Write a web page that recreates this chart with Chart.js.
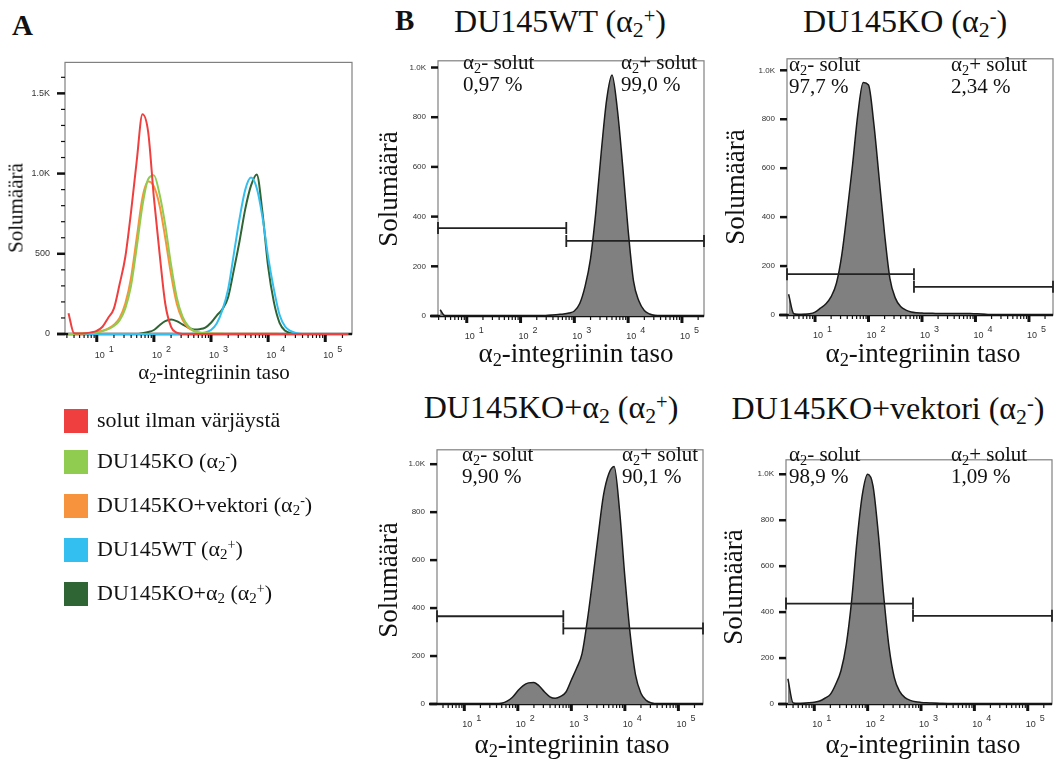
<!DOCTYPE html>
<html lang="fi">
<head>
<meta charset="utf-8">
<title>α2-integriinin taso</title>
<script src="https://cdn.jsdelivr.net/npm/chart.js@4.4.1/dist/chart.umd.min.js"></script>
<style>
  html, body { margin: 0; padding: 0; background: #fff; }
  body { position: relative; width: 1054px; height: 760px; overflow: hidden;
         font-family: "Liberation Serif", "Times New Roman", serif; color: #111; }
  canvas { position: absolute; }
  .t { position: absolute; white-space: nowrap; line-height: 1; }
  .t sub { font-size: 68%; position: relative; top: 0.22em; vertical-align: baseline; }
  .t sup { font-size: 64%; position: relative; top: -0.45em; vertical-align: baseline; }
  .sw { position: absolute; width: 24px; height: 24px; }
</style>
</head>
<body>
<script>
// bin centres (fluorescence intensity, ~0.1 decade apart)
const bins = [3.2, 4, 5, 6.3, 7.9,
  10, 12.6, 15.8, 20, 25.1, 31.6, 39.8, 50.1, 63.1, 79.4,
  100, 126, 158, 200, 251, 316, 398, 501, 631, 794,
  1000, 1259, 1585, 1995, 2512, 3162, 3981, 5012, 6310, 7943,
  10000, 12589, 15849, 19953, 25119, 31623, 39811, 50119, 63096, 79433,
  100000, 125893, 158489, 199526, 251189];

// panel A overlays (counts per bin)
const unstainedA = [130, 5, 3, 5, 10,
  20, 45, 100, 160, 310, 480, 760, 1080, 1370, 1260,
  850, 500, 190, 45, 8, 0, 0, 0, 0, 0,
  0, 0, 0, 0, 0, 0, 0, 0, 0, 0,
  0, 0, 0, 0, 0, 0, 0, 0, 0, 0,
  0, 0, 0, 0, 0];
const koA = [0, 0, 2, 4, 6,
  10, 18, 30, 50, 85, 160, 300, 540, 800, 965,
  990, 870, 680, 430, 230, 110, 50, 20, 10, 5,
  3, 2, 1, 0, 0, 0, 0, 0, 0, 0,
  0, 0, 0, 0, 0, 0, 0, 0, 0, 0,
  0, 0, 0, 0, 0];
const koVectorA = [0, 0, 2, 4, 7,
  12, 20, 34, 58, 100, 190, 350, 600, 850, 950,
  920, 800, 600, 370, 190, 90, 40, 18, 8, 4,
  3, 2, 2, 2, 2, 2, 2, 2, 2, 2,
  2, 2, 0, 0, 0, 0, 0, 0, 0, 0,
  0, 0, 0, 0, 0];
const wtA = [0, 0, 0, 0, 0,
  0, 0, 0, 0, 0, 0, 0, 0, 0, 0,
  0, 0, 0, 0, 0, 0, 0, 2, 5, 10,
  25, 65, 150, 280, 500, 720, 900, 975, 910, 730,
  480, 280, 120, 45, 18, 5, 0, 0, 0, 0,
  0, 0, 0, 0, 0];
const koAlpha2A = [0, 0, 0, 0, 0,
  0, 0, 0, 0, 0, 0, 0, 0, 5, 12,
  25, 55, 80, 90, 80, 60, 40, 28, 30, 40,
  70, 115, 155, 230, 400, 580, 780, 925, 995, 760,
  420, 200, 70, 20, 5, 0, 0, 0, 0, 0,
  0, 0, 0, 0, 0];

// panel B single histograms
const wtB = [25, 0, 0, 0, 0,
  0, 0, 0, 0, 0, 0, 0, 0, 0, 0,
  0, 0, 0, 0, 0, 2, 4, 6, 8, 12,
  20, 50, 120, 230, 420, 660, 870, 970, 830, 600,
  345, 140, 60, 22, 8, 2, 0, 0, 0, 0,
  0, 0, 0, 0, 0];
const koB = [85, 5, 2, 3, 5,
  12, 28, 45, 75, 130, 245, 420, 610, 820, 950,
  940, 780, 560, 330, 150, 70, 35, 20, 12, 9,
  8, 7, 7, 6, 6, 6, 6, 6, 6, 6,
  5, 4, 2, 0, 0, 0, 0, 0, 0, 0,
  0, 0, 0, 0, 0];
const koAlpha2B = [0, 0, 0, 0, 0,
  0, 0, 0, 0, 0, 0, 0, 3, 12, 28,
  55, 77, 88, 90, 75, 50, 30, 24, 32, 50,
  100, 150, 210, 350, 520, 700, 870, 960, 990, 810,
  530, 290, 120, 45, 15, 4, 0, 0, 0, 0,
  0, 0, 0, 0, 0];
const koVectorB = [110, 5, 2, 3, 5,
  8, 13, 25, 42, 85, 145, 260, 450, 710, 910,
  1000, 950, 745, 470, 250, 115, 55, 28, 16, 10,
  7, 5, 4, 3, 2, 1, 0, 0, 0, 0,
  0, 0, 0, 0, 0, 0, 0, 0, 0, 0,
  0, 0, 0, 0, 0];

// gates (B panels, order: WT, KO, KO+a2, KO+vektori)
const gateSplit = 708;
const gateNegY = [354, 167, 366, 437];
const gatePosY = [302, 115, 315, 384];
const negPct = ['0,97 %', '97,7 %', '9,90 %', '98,9 %'];
const posPct = ['99,0 %', '2,34 %', '90,1 %', '1,09 %'];

// names
const legendNames = ['solut ilman värjäystä',
  'DU145KO (α<sub>2</sub><sup>-</sup>)',
  'DU145KO+vektori (α<sub>2</sub><sup>-</sup>)',
  'DU145WT (α<sub>2</sub><sup>+</sup>)',
  'DU145KO+α<sub>2</sub> (α<sub>2</sub><sup>+</sup>)'];
const legendColors = ['#ef3f3f', '#8fcc4f', '#f7933c', '#33bfef', '#2f6434'];
const panelTitles = ['DU145WT (α<sub>2</sub><sup>+</sup>)',
  'DU145KO (α<sub>2</sub><sup>-</sup>)',
  'DU145KO+α<sub>2</sub> (α<sub>2</sub><sup>+</sup>)',
  'DU145KO+vektori (α<sub>2</sub><sup>-</sup>)'];

// ticks
const xMajorTicks = [10, 100, 1000, 10000, 100000];
const xTickLabels = ['1', '2', '3', '4', '5'];
const xTickValues = [3, 4, 5, 6, 7, 8, 9];
xMajorTicks.forEach(m => { for (let k = 1; k <= 9; k++) xTickValues.push(k * m); });
const yTicksA = [0, 100, 200, 300, 400, 500, 600, 700, 800, 900, 1000, 1100, 1200, 1300, 1400, 1500, 1600];
const yLabelsA = { 0: '0', 500: '500', 1000: '1.0K', 1500: '1.5K' };
const yTicksB = [0, 200, 400, 600, 800, 1000];
const yLabelsB = { 0: '0', 200: '200', 400: '400', 600: '600', 800: '800', 1000: '1.0K' };

// layout: plot boxes in page pixels
const AXW = 50, AXH = 40, PAD = 8;
const boxA = { left: 65, top: 50, right: 352, bottom: 334, xMin: 2.78, xMax: 293800, yMax: 1693 };
const boxesB = [
  { left: 438, top: 52, right: 704, bottom: 316, xMin: 2.92, xMax: 257000, yMax: 1027 },
  { left: 787, top: 50, right: 1053, bottom: 315, xMin: 2.99, xMax: 281800, yMax: 1047 },
  { left: 437, top: 441, right: 703, bottom: 704, xMin: 3.09, xMax: 288400, yMax: 1060 },
  { left: 786, top: 451, right: 1052, bottom: 704, xMin: 2.95, xMax: 285100, yMax: 1063 }
];

const pts = vals => bins.map((x, i) => ({ x, y: vals[i] }));

const flowAxes = {
  id: 'flowAxes',
  beforeDatasetsDraw(chart, args, opts) {
    const { ctx, chartArea: a, scales: { x, y } } = chart;
    const big = opts.big;
    ctx.save();
    ctx.strokeStyle = '#808080';
    ctx.lineWidth = 1.2;
    ctx.strokeRect(a.left, a.top, a.right - a.left, a.bottom - a.top);
    ctx.strokeStyle = '#111';
    x.ticks.forEach(t => {
      const px = x.getPixelForValue(t.value);
      const major = xMajorTicks.includes(t.value);
      ctx.lineWidth = major ? 3 : 1.2;
      ctx.beginPath();
      ctx.moveTo(px, a.bottom);
      ctx.lineTo(px, a.bottom + (major ? (big ? 8 : 7) : 4));
      ctx.stroke();
    });
    y.ticks.forEach(t => {
      const py = y.getPixelForValue(t.value);
      const major = opts.labels[t.value] !== undefined;
      const len = major ? (big ? 8 : 7) : 4;
      ctx.lineWidth = major ? 2.5 : 1.2;
      ctx.beginPath();
      ctx.moveTo(a.left - len, py);
      ctx.lineTo(a.left, py);
      ctx.stroke();
    });
    ctx.lineWidth = 2.5;
    ctx.beginPath();
    ctx.moveTo(a.left - 8, a.bottom);
    ctx.lineTo(a.right, a.bottom);
    ctx.stroke();
    ctx.fillStyle = '#333';
    ctx.font = '9px "Liberation Sans", Arial, sans-serif';
    ctx.textAlign = 'left';
    xMajorTicks.forEach((v, i) => {
      const px = x.getPixelForValue(v);
      ctx.fillText('10', px - 2, a.bottom + (big ? 24 : 23));
      ctx.fillText(xTickLabels[i], px + 12, a.bottom + (big ? 18 : 17));
    });
    ctx.restore();
  }
};

function makeChart(box, datasets, yTicks, yLabels, big) {
  const cv = document.createElement('canvas');
  cv.width = box.right - box.left + AXW + PAD;
  cv.height = box.bottom - box.top + PAD + AXH;
  cv.style.left = (box.left - AXW) + 'px';
  cv.style.top = (box.top - PAD) + 'px';
  document.body.appendChild(cv);
  return new Chart(cv, {
    type: 'line',
    data: { datasets },
    options: {
      responsive: false,
      animation: false,
      devicePixelRatio: 1,
      layout: { padding: { top: PAD, right: PAD, left: 0, bottom: 0 } },
      elements: { point: { radius: 0 }, line: { cubicInterpolationMode: 'monotone' } },
      plugins: {
        legend: { display: false },
        tooltip: { enabled: false },
        flowAxes: { big, labels: yLabels }
      },
      scales: {
        x: {
          type: 'logarithmic', min: box.xMin, max: box.xMax,
          grid: { display: false, drawTicks: false }, border: { display: false },
          ticks: { display: false, autoSkip: false },
          afterBuildTicks: s => {
            s.ticks = xTickValues.filter(v => v >= box.xMin && v <= box.xMax).map(v => ({ value: v }));
            s.min = box.xMin; s.max = box.xMax;
          },
          afterFit: s => { s.height = AXH; }
        },
        y: {
          type: 'linear', min: 0, max: box.yMax,
          grid: { display: false, drawTicks: false }, border: { display: false },
          ticks: {
            autoSkip: false, padding: big ? 15 : 12, color: '#333',
            font: { family: '"Liberation Sans", Arial, sans-serif', size: big ? 9 : 8 },
            callback: v => yLabels[v] !== undefined ? yLabels[v] : ''
          },
          afterBuildTicks: s => {
            s.ticks = yTicks.map(v => ({ value: v }));
            s.min = 0; s.max = box.yMax;
          },
          afterFit: s => { s.width = AXW; }
        }
      }
    },
    plugins: [flowAxes]
  });
}

// panel A (red drawn on top, also along the baseline)
const seriesA = [unstainedA, koA, koVectorA, wtA, koAlpha2A];
makeChart(boxA, seriesA.map((vals, i) => ({
  data: pts(vals), borderColor: legendColors[i], borderWidth: 2, fill: false,
  clip: { left: 0, top: 0, right: 0, bottom: 3 }
})), yTicksA, yLabelsA, true);

// panel B
const seriesB = [wtB, koB, koAlpha2B, koVectorB];
seriesB.forEach((vals, i) => {
  const box = boxesB[i];
  const gate = (y0, x0, x1) => ({
    data: [{ x: x0, y: y0 }, { x: x1, y: y0 }],
    borderColor: '#222', borderWidth: 1.8,
    pointStyle: 'line', pointRotation: 90, pointRadius: 6,
    pointBorderWidth: 1.8, pointBorderColor: '#222', clip: 10, fill: false
  });
  makeChart(box, [
    gate(gateNegY[i], box.xMin, gateSplit),
    gate(gatePosY[i], gateSplit, box.xMax),
    { data: pts(vals), borderColor: '#1a1a1a', borderWidth: 1.5,
      backgroundColor: '#808080', fill: 'origin' }
  ], yTicksB, yLabelsB, false);
});

// text
function put(html, x, base, size, opt = {}) {
  const d = document.createElement('div');
  d.className = 't';
  d.innerHTML = html;
  d.style.fontSize = size + 'px';
  d.style.left = x + 'px';
  d.style.top = (base - 0.84 * size) + 'px';
  if (opt.center) d.style.transform = 'translateX(-50%)';
  if (opt.bold) d.style.fontWeight = 'bold';
  document.body.appendChild(d);
}
function putV(html, cx, cy, size) {
  const d = document.createElement('div');
  d.className = 't';
  d.innerHTML = html;
  d.style.fontSize = size + 'px';
  d.style.left = cx + 'px';
  d.style.top = cy + 'px';
  d.style.transform = 'translate(-50%, -50%) rotate(-90deg)';
  document.body.appendChild(d);
}

const xTitle = 'α<sub>2</sub>-integriinin taso';
const yTitle = 'Solumäärä';

put('A', 12, 35, 29, { bold: true });
put('B', 395, 30, 29, { bold: true });

put(xTitle, 214, 380, 21, { center: true });
putV(yTitle, 16, 208, 21);

legendNames.forEach((name, i) => {
  const top = [409, 450, 494, 538, 582][i];
  const sw = document.createElement('div');
  sw.className = 'sw';
  sw.style.left = '64px';
  sw.style.top = top + 'px';
  sw.style.background = legendColors[i];
  document.body.appendChild(sw);
  put(name, 97, top + 18, 22);
});

const titlePos = [[560, 32], [905, 32], [551, 418], [888, 419]];
const xTitlePos = [[576, 363], [923, 363], [572, 754], [923, 754]];
const yTitlePos = [[388, 189], [735, 187], [388, 580], [733, 587]];
const notePos = [[463, 621, 70], [789, 951, 72], [462, 622, 462], [789, 951, 462]];
panelTitles.forEach((title, i) => {
  put(title, titlePos[i][0], titlePos[i][1], 32, { center: true });
  put(xTitle, xTitlePos[i][0], xTitlePos[i][1], 27, { center: true });
  putV(yTitle, yTitlePos[i][0], yTitlePos[i][1], 27);
  const [nx, px, b] = notePos[i];
  put('α<sub>2</sub>- solut', nx, b, 21);
  put(negPct[i], nx, b + 22, 21);
  put('α<sub>2</sub>+ solut', px, b, 21);
  put(posPct[i], px, b + 22, 21);
});
</script>
</body>
</html>
